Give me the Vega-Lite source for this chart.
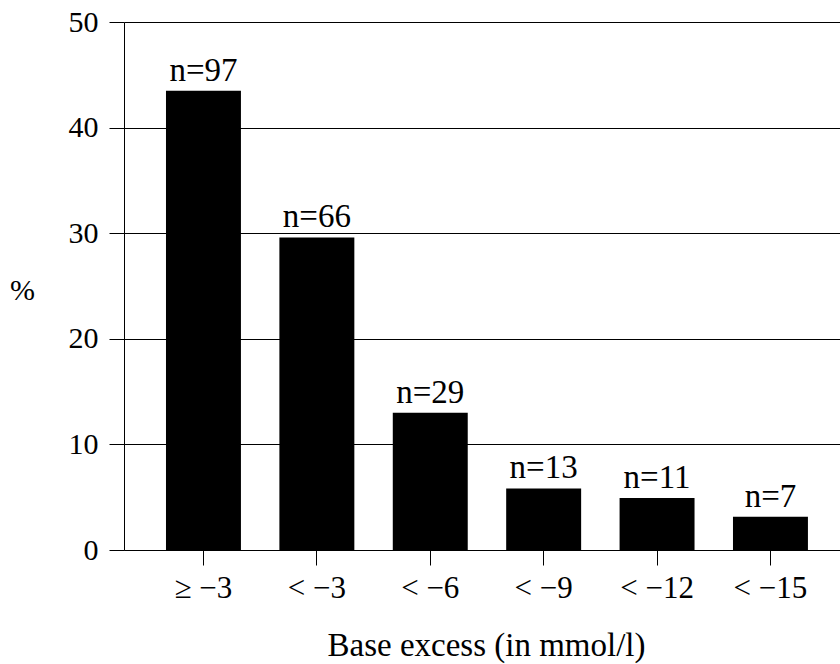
{
  "$schema": "https://vega.github.io/schema/vega-lite/v6.json",
  "autosize": "none",
  "width": 716,
  "height": 528,
  "padding": {"left": 124, "top": 22, "right": 0, "bottom": 114},
  "background": "white",
  "config": {
    "font": "Liberation Serif",
    "view": {"stroke": null},
    "axis": {"domainColor": "black", "tickColor": "black", "gridColor": "black", "labelColor": "black", "titleColor": "black", "domainWidth": 1, "tickWidth": 1, "gridWidth": 1}
  },
  "data": {
    "values": [
      {"cat": "≥ −3", "pct": 43.5, "label": "n=97"},
      {"cat": "< −3", "pct": 29.6, "label": "n=66"},
      {"cat": "< −6", "pct": 13.0, "label": "n=29"},
      {"cat": "< −9", "pct": 5.83, "label": "n=13"},
      {"cat": "< −12", "pct": 4.93, "label": "n=11"},
      {"cat": "< −15", "pct": 3.14, "label": "n=7"}
    ]
  },
  "encoding": {
    "x": {
      "field": "cat",
      "type": "nominal",
      "sort": null,
      "scale": {"paddingInner": 0.339, "paddingOuter": 0.3265, "align": 0.567},
      "axis": {
        "title": "Base excess (in mmol/l)",
        "titleFontSize": 33,
        "titleFontWeight": "normal",
        "titleX": 362,
        "titleY": 105,
        "titleBaseline": "alphabetic",
        "titleAlign": "center",
        "labelAngle": 0,
        "labelFontSize": 31,
        "labelBaseline": "alphabetic",
        "labelPadding": 32,
        "tickSize": 15,
        "grid": false
      }
    },
    "y": {
      "field": "pct",
      "type": "quantitative",
      "scale": {"domain": [0, 50], "nice": false},
      "axis": {
        "title": "%",
        "titleAngle": 0,
        "titleFontSize": 30,
        "titleFontWeight": "normal",
        "titleX": -102,
        "titleY": 268,
        "titleAlign": "center",
        "titleBaseline": "middle",
        "values": [0, 10, 20, 30, 40, 50],
        "labelFontSize": 30,
        "labelPadding": 11,
        "tickSize": 15,
        "grid": true
      }
    }
  },
  "layer": [
    {"mark": {"type": "bar", "color": "black"}},
    {
      "mark": {"type": "text", "baseline": "alphabetic", "dy": -10, "fontSize": 33, "color": "black"},
      "encoding": {"text": {"field": "label"}}
    }
  ]
}
